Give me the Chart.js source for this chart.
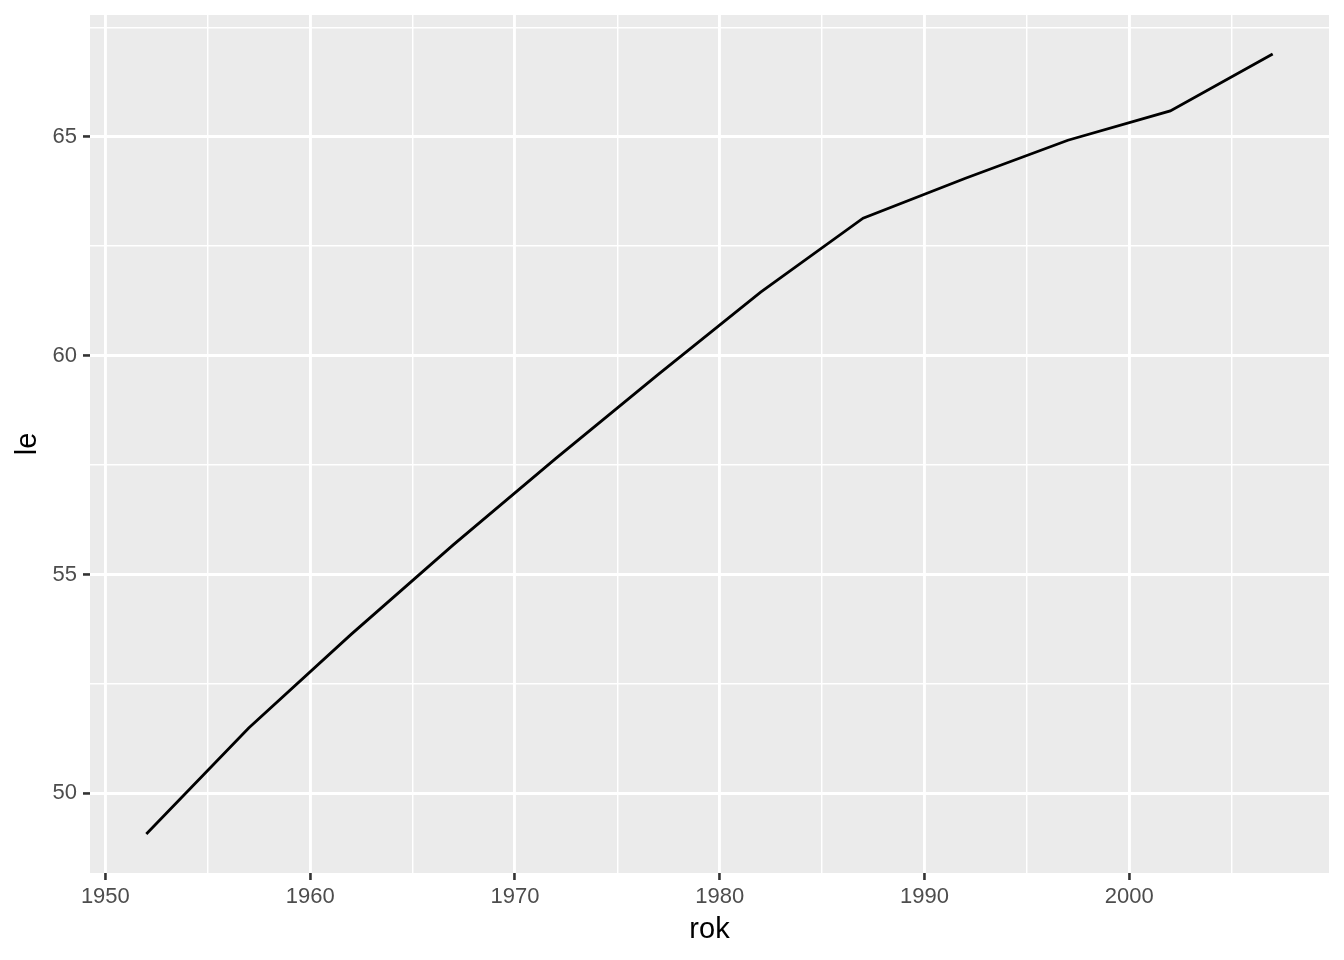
<!DOCTYPE html>
<html>
<head>
<meta charset="utf-8">
<script src="https://cdn.jsdelivr.net/npm/chart.js@4"></script>
<style>
  html, body { margin: 0; padding: 0; background: #ffffff; }
  #wrap { width: 1344px; height: 960px; position: relative; }
</style>
</head>
<body>
<div id="wrap"><canvas id="leChart"></canvas></div>
<script>
// values
const years = [1952, 1957, 1962, 1967, 1972, 1977, 1982, 1987, 1992, 1997, 2002, 2007];
const lifeExp = [49.07, 51.49, 53.63, 55.68, 57.65, 59.57, 61.45, 63.14, 64.05, 64.92, 65.59, 66.89];

const xTicks = [1950, 1955, 1960, 1965, 1970, 1975, 1980, 1985, 1990, 1995, 2000, 2005];
const xMajor = [1950, 1960, 1970, 1980, 1990, 2000];
const yTicks = [50, 52.5, 55, 57.5, 60, 62.5, 65, 67.5];
const yMajor = [50, 55, 60, 65];

const xLabel = 'rok';
const yLabel = 'le';

// ggplot-like range expansion of 5% on each side
function expand(values) {
    const lo = Math.min(...values);
    const hi = Math.max(...values);
    const pad = (hi - lo) * 0.05;
    return [lo - pad, hi + pad];
}
const [xMin, xMax] = expand(years);
const [yMin, yMax] = expand(lifeExp);

// grey panel behind the grid
const panelBackground = {
    id: 'panelBackground',
    beforeDraw(chart) {
        const { ctx, chartArea } = chart;
        ctx.save();
        ctx.fillStyle = '#EBEBEB';
        ctx.fillRect(chartArea.left, chartArea.top,
            chartArea.right - chartArea.left, chartArea.bottom - chartArea.top);
        ctx.restore();
    }
};

const tickFont = { family: "'Liberation Sans', Arial, sans-serif", size: 22 };
const titleFont = { family: "'Liberation Sans', Arial, sans-serif", size: 29 };

new Chart(document.getElementById('leChart'), {
    type: 'line',
    data: {
        datasets: [{
            data: years.map((yr, i) => ({ x: yr, y: lifeExp[i] })),
            borderColor: '#000000',
            borderWidth: 2.8,
            pointRadius: 0,
            tension: 0,
            fill: false
        }]
    },
    options: {
        responsive: true,
        maintainAspectRatio: false,
        animation: false,
        layout: { padding: { top: 15, right: 15, left: 0, bottom: 0 } },
        plugins: {
            legend: { display: false },
            tooltip: { enabled: false }
        },
        scales: {
            x: {
                type: 'linear',
                min: xMin,
                max: xMax,
                afterBuildTicks: scale => { scale.ticks = xTicks.map(v => ({ value: v })); },
                afterFit: scale => { scale.height = 87; },
                border: { display: false },
                grid: {
                    color: '#FFFFFF',
                    lineWidth: c => (xMajor.includes(c.tick && c.tick.value) ? 2.9 : 1.45),
                    tickColor: c => (xMajor.includes(c.tick && c.tick.value) ? '#333333' : 'rgba(0,0,0,0)'),
                    tickLength: 7,
                    tickWidth: 2.6
                },
                ticks: {
                    autoSkip: false,
                    maxRotation: 0,
                    padding: 4,
                    color: '#4D4D4D',
                    font: tickFont,
                    callback: v => (xMajor.includes(v) ? String(v) : '')
                },
                title: {
                    display: true,
                    text: xLabel,
                    color: '#000000',
                    font: titleFont,
                    padding: { top: 0, bottom: 13 }
                }
            },
            y: {
                type: 'linear',
                min: yMin,
                max: yMax,
                afterBuildTicks: scale => { scale.ticks = yTicks.map(v => ({ value: v })); },
                afterFit: scale => {
                    scale.width = 90;
                    scale.paddingTop = 0;
                    scale.paddingBottom = 0;
                },
                border: { display: false },
                grid: {
                    color: '#FFFFFF',
                    lineWidth: c => (yMajor.includes(c.tick && c.tick.value) ? 2.9 : 1.45),
                    tickColor: c => (yMajor.includes(c.tick && c.tick.value) ? '#333333' : 'rgba(0,0,0,0)'),
                    tickLength: 7,
                    tickWidth: 2.6
                },
                ticks: {
                    autoSkip: false,
                    padding: 6,
                    color: '#4D4D4D',
                    font: tickFont,
                    callback: v => (yMajor.includes(v) ? String(v) : '')
                },
                title: {
                    display: true,
                    text: yLabel,
                    color: '#000000',
                    font: titleFont,
                    padding: { top: 11, bottom: 0 }
                }
            }
        }
    },
    plugins: [panelBackground]
});
</script>
</body>
</html>
